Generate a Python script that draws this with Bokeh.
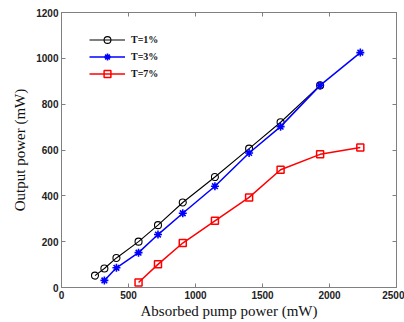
from bokeh.plotting import figure
from bokeh.models import LinearAxis, FixedTicker, Legend, LegendItem
from bokeh.embed import file_html
from bokeh.resources import INLINE

# data
x_t1 = [250, 320, 410, 575, 720, 905, 1145, 1400, 1635, 1930]
y_t1 = [52, 83, 129, 200, 272, 371, 482, 606, 721, 882]

x_t3 = [320, 410, 575, 720, 905, 1145, 1400, 1635, 1930, 2230]
y_t3 = [31, 86, 152, 231, 324, 442, 587, 702, 882, 1025]

x_t7 = [575, 720, 905, 1145, 1400, 1635, 1930, 2230]
y_t7 = [22, 101, 194, 291, 393, 514, 581, 611]

x_ticks = [0, 500, 1000, 1500, 2000, 2500]
y_ticks = [0, 200, 400, 600, 800, 1000, 1200]
labels = ["T=1%", "T=3%", "T=7%"]

FRAME = "#808080"
TICK_FONT = "Liberation Sans"
TITLE_FONT = "Liberation Serif"

p = figure(width=404, height=322, x_range=(0, 2500), y_range=(0, 1200),
           output_backend="svg", toolbar_location=None,
           min_border_left=61, min_border_top=12, min_border_right=8,
           min_border_bottom=35, background_fill_color="white")
p.grid.visible = False
p.outline_line_color = FRAME
p.outline_line_width = 1


def style_axis(ax, show_labels=True):
    ax.axis_line_color = FRAME
    ax.major_tick_line_color = FRAME
    ax.major_tick_in = 4
    ax.major_tick_out = 0
    ax.minor_tick_line_color = None
    if show_labels:
        ax.major_label_text_font = TICK_FONT
        ax.major_label_text_font_style = "bold"
        ax.major_label_text_font_size = "10px"
        ax.major_label_text_color = "#222222"
        ax.major_label_standoff = 3
        ax.axis_label_text_font = TITLE_FONT
        ax.axis_label_text_font_style = "normal"
        ax.axis_label_text_font_size = "15px"
        ax.axis_label_text_color = "#111111"
        ax.axis_label_standoff = 1
    else:
        ax.major_label_text_font_size = "1px"
        ax.major_label_text_color = None
        ax.major_label_standoff = 0


p.xaxis.ticker = FixedTicker(ticks=x_ticks)
p.yaxis.ticker = FixedTicker(ticks=y_ticks)
p.xaxis.axis_label = "Absorbed pump power (mW)"
p.yaxis.axis_label = "Output power (mW)"
style_axis(p.xaxis[0])
style_axis(p.yaxis[0])
p.yaxis[0].axis_label_standoff = 5

top_ax = LinearAxis(ticker=FixedTicker(ticks=x_ticks))
right_ax = LinearAxis(ticker=FixedTicker(ticks=y_ticks))
style_axis(top_ax, False)
style_axis(right_ax, False)
p.add_layout(top_ax, "above")
p.add_layout(right_ax, "right")

l1 = p.line(x_t1, y_t1, line_color="black", line_width=1.1)
m1 = p.scatter(x_t1, y_t1, marker="circle", size=7, line_color="black",
               fill_color=None, line_width=1.1)
l3 = p.line(x_t3, y_t3, line_color="blue", line_width=1.5)
m3 = p.scatter(x_t3, y_t3, marker="asterisk", size=8, line_color="blue",
               line_width=1.6)
l7 = p.line(x_t7, y_t7, line_color="red", line_width=1.5)
m7 = p.scatter(x_t7, y_t7, marker="square", size=7, line_color="red",
               fill_color=None, line_width=1.5)

legend = Legend(items=[LegendItem(label=labels[0], renderers=[l1, m1]),
                       LegendItem(label=labels[1], renderers=[l3, m3]),
                       LegendItem(label=labels[2], renderers=[l7, m7])],
                location=(28, 205))
legend.glyph_width = 36
legend.glyph_height = 17
legend.label_height = 17
legend.label_standoff = 6
legend.spacing = 0
legend.padding = 0
legend.margin = 0
legend.border_line_alpha = 0
legend.background_fill_alpha = 0
legend.label_text_font = TITLE_FONT
legend.label_text_font_style = "bold"
legend.label_text_font_size = "10px"
legend.label_text_color = "#111111"
p.add_layout(legend, "center")

open("out.html", "w").write(file_html(p, INLINE))
